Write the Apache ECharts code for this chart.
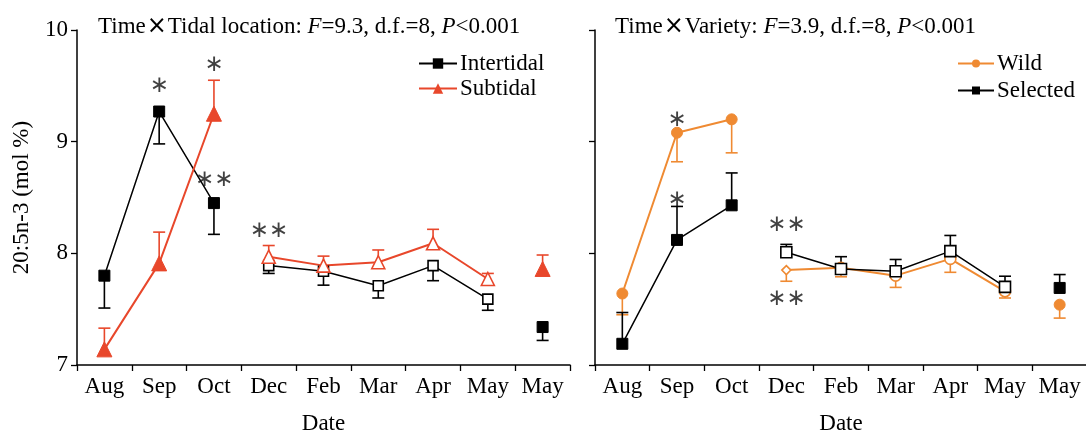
<!DOCTYPE html>
<html><head><meta charset="utf-8">
<script src="https://cdn.jsdelivr.net/npm/echarts@6/dist/echarts.min.js"></script>
<style>html,body{margin:0;padding:0;background:#fff}#c{width:1086px;height:432px}</style>
</head><body><div id="c"></div>
<script>
const categories = ['Aug','Sep','Oct','Dec','Feb','Mar','Apr','May','May'];
const yTicks = [7, 8, 9, 10];
// Left panel
const intertidal    = [7.80, 9.27, 8.45, 7.89, 7.84, 7.71, 7.89, 7.59, 7.34];
const intertidalErr = [0.29, 0.29, 0.28, 0.07, 0.125, 0.11, 0.135, 0.10, 0.12]; // drawn downward
const subtidal      = [7.14, 7.91, 9.25, 7.97, 7.89, 7.92, 8.09, 7.77, 7.86];
const subtidalErr   = [0.19, 0.28, 0.30, 0.10, 0.085, 0.11, 0.125, 0.05, 0.125]; // drawn upward
// Right panel
const wild          = [7.64, 9.08, 9.20, 7.85, 7.87, 7.80, 7.95, 7.66, 7.54];
const wildErr       = [0.19, 0.26, 0.30, 0.10, 0.08, 0.105, 0.12, 0.06, 0.12]; // downward
const selected      = [7.19, 8.12, 8.43, 8.01, 7.86, 7.84, 8.02, 7.70, 7.69];
const selectedErr   = [0.28, 0.30, 0.29, 0.07, 0.11, 0.105, 0.14, 0.095, 0.12]; // upward
// significance marks: [categoryIndex, yValue, text]
const marksLeft  = [[1, 9.50, '∗'], [2, 9.69, '∗'], [2.11, 8.66, '∗∗'], [3.03, 8.20, '∗∗']];
const marksRight = [[1, 9.19, '∗'], [1, 8.48, '∗'], [3, 8.25, '∗∗'], [3, 7.59, '∗∗']];

const RED = '#E8472B', ORANGE = '#EF8A32', BLACK = '#000';
const FONT = '"Liberation Serif","Times New Roman",serif';
const FS = 23;

function seg(arr, from, to) { return arr.map((v, i) => (i >= from && i <= to) ? v : '-'); }

function errSeries(vals, errs, dir, color, axisIdx) {
  return {
    type: 'custom', xAxisIndex: axisIdx, yAxisIndex: axisIdx, z: 1, silent: true,
    data: vals.map((v, i) => [i, v, v + dir * errs[i]]),
    renderItem: function (params, api) {
      const p0 = api.coord([api.value(0), api.value(1)]);
      const p1 = api.coord([api.value(0), api.value(2)]);
      const hw = 6;
      return { type: 'group', children: [
        { type: 'line', shape: { x1: p0[0], y1: p0[1], x2: p1[0], y2: p1[1] }, style: { stroke: color, lineWidth: 1.6 } },
        { type: 'line', shape: { x1: p1[0] - hw, y1: p1[1], x2: p1[0] + hw, y2: p1[1] }, style: { stroke: color, lineWidth: 1.6 } }
      ]};
    }
  };
}

function lineGroup(name, vals, color, sym, symSize, openSize, axisIdx, lw) {
  const base = { type: 'line', name: name, xAxisIndex: axisIdx, yAxisIndex: axisIdx, z: 3,
    lineStyle: { color: color, width: lw }, itemStyle: { color: color }, connectNulls: false, animation: false };
  return [
    Object.assign({}, base, { data: seg(vals, 0, 2), symbol: sym, symbolSize: symSize,
      itemStyle: { color: color, borderColor: color } }),
    Object.assign({}, base, { data: seg(vals, 3, 7), symbol: sym, symbolSize: openSize,
      itemStyle: { color: '#fff', borderColor: color, borderWidth: 1.6 } }),
    Object.assign({}, base, { data: seg(vals, 8, 8), symbol: sym, symbolSize: symSize,
      itemStyle: { color: color, borderColor: color } })
  ];
}

function markSeries(marks, axisIdx) {
  return {
    type: 'scatter', xAxisIndex: axisIdx, yAxisIndex: axisIdx, symbolSize: 0, silent: true, z: 5,
    data: marks.map(m => ({ value: [m[0], m[1]], label: { show: true, formatter: m[2] } })),
    label: { position: 'inside', color: '#111', fontFamily: '"DejaVu Sans"', fontSize: 23, fontWeight: 'normal' }
  };
}

const chart = echarts.init(document.getElementById('c'));
const xAxisBase = {
  type: 'category', data: categories, boundaryGap: true,
  axisLine: { lineStyle: { color: '#000', width: 1.5 } },
  axisTick: { show: true, inside: false, length: 6, lineStyle: { color: '#000', width: 1.3 } },
  axisLabel: { color: '#000', fontFamily: FONT, fontSize: FS, margin: 10, interval: 0 },
  name: 'Date', nameLocation: 'middle', nameGap: 47,
  nameTextStyle: { color: '#000', fontFamily: FONT, fontSize: FS }
};
const yAxisBase = {
  type: 'value', min: yTicks[0], max: yTicks[yTicks.length - 1], interval: 1,
  axisLine: { show: true, lineStyle: { color: '#000', width: 1.5 } },
  axisTick: { show: true, inside: false, length: 6, lineStyle: { color: '#000', width: 1.3 } },
  splitLine: { show: false },
  axisLabel: { color: '#000', fontFamily: FONT, fontSize: FS, margin: 9 }
};
const titleRich = {
  a: { fontFamily: FONT, fontSize: FS, color: '#000', fontWeight: 'normal' },
  x: { fontFamily: '"DejaVu Sans"', fontSize: 24, color: '#000', fontWeight: 'normal', padding: [0, 1, 0, 1] },
  i: { fontFamily: FONT, fontSize: FS, color: '#000', fontStyle: 'italic', fontWeight: 'normal' }
};

chart.setOption({
  animation: false,
  backgroundColor: '#fff',
  title: [
    { left: 93, top: 10, text: '{a|Time}{x|×}{a|Tidal location: }{i|F}{a|=9.3, d.f.=8, }{i|P}{a|<0.001}', textStyle: { fontWeight: 'normal', rich: titleRich } },
    { left: 610, top: 10, text: '{a|Time}{x|×}{a|Variety: }{i|F}{a|=3.9, d.f.=8, }{i|P}{a|<0.001}', textStyle: { fontWeight: 'normal', rich: titleRich } }
  ],
  legend: [
    { left: 413, top: 47, orient: 'vertical', itemWidth: 38, itemHeight: 13, itemGap: 2,
      data: ['Intertidal', 'Subtidal'], textStyle: { fontFamily: FONT, fontSize: FS, color: '#000', padding: [0, 0, 0, -2] } },
    { left: 952, top: 47, orient: 'vertical', itemWidth: 36, itemHeight: 10, itemGap: 4,
      data: ['Wild', 'Selected'], textStyle: { fontFamily: FONT, fontSize: FS, color: '#000', padding: [0, 0, 0, -2] } }
  ],
  grid: [
    { left: 77, top: 30, width: 493, bottom: 67, outerBoundsMode: 'none', containLabel: false },
    { left: 595, top: 30, width: 492, bottom: 67, outerBoundsMode: 'none', containLabel: false }
  ],
  xAxis: [ Object.assign({ gridIndex: 0 }, xAxisBase), Object.assign({ gridIndex: 1 }, xAxisBase) ],
  yAxis: [
    Object.assign({ gridIndex: 0, name: '20:5n-3 (mol %)', nameLocation: 'middle', nameGap: 44,
      nameTextStyle: { color: '#000', fontFamily: FONT, fontSize: FS } }, yAxisBase),
    Object.assign({ gridIndex: 1 }, yAxisBase, { axisLabel: { show: false } })
  ],
  series: [
    errSeries(intertidal, intertidalErr, -1, BLACK, 0),
    errSeries(subtidal, subtidalErr, 1, RED, 0),
    ...lineGroup('Intertidal', intertidal, BLACK, 'rect', 11, 10, 0, 1.5),
    ...lineGroup('Subtidal', subtidal, RED, 'triangle', 15, 13, 0, 2),
    markSeries(marksLeft, 0),
    errSeries(wild, wildErr, -1, ORANGE, 1),
    errSeries(selected, selectedErr, 1, BLACK, 1),
    ...(function () {
      const g = lineGroup('Wild', wild, ORANGE, 'circle', 11, 11, 1, 2);
      g[1].data = g[1].data.map((v, i) => i === 3 ? { value: v, symbol: 'diamond', symbolSize: 9 } : v);
      return g;
    })(),
    ...lineGroup('Selected', selected, BLACK, 'rect', 11, 11, 1, 1.5),
    markSeries(marksRight, 1)
  ]
});
</script></body></html>
